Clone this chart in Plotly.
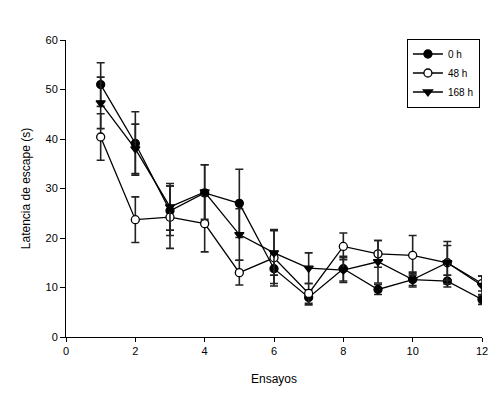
import plotly.graph_objects as go

ensayos = [1, 2, 3, 4, 5, 6, 7, 8, 9, 10, 11, 12]

lat_0h = [51.0, 39.1, 25.5, 29.1, 27.0, 13.8, 8.0, 13.8, 9.6, 11.6, 11.3, 7.6]
err_0h = [4.4, 6.4, 5.0, 5.7, 6.9, 3.0, 1.5, 2.5, 1.0, 1.2, 1.2, 1.0]
lat_48h = [40.4, 23.7, 24.2, 22.9, 13.0, 16.0, 8.8, 18.3, 16.8, 16.5, 15.0, 10.8]
err_48h = [4.7, 4.6, 6.3, 5.7, 2.5, 5.7, 2.0, 2.7, 2.7, 4.0, 3.5, 1.5]
lat_168h = [47.3, 38.0, 26.3, 29.3, 20.7, 17.0, 13.9, 13.5, 15.2, 11.6, 15.0, 10.4]
err_168h = [5.2, 5.0, 4.7, 5.5, 5.2, 4.5, 3.1, 2.5, 4.3, 1.5, 4.3, 1.9]

series = [
    ("0 h", lat_0h, err_0h, "circle", "black"),
    ("48 h", lat_48h, err_48h, "circle", "white"),
    ("168 h", lat_168h, err_168h, "triangle-down", "black"),
]

fig = go.Figure()
for name, y, e, sym, fill in series:
    fig.add_trace(go.Scatter(
        x=ensayos, y=y, name=name, mode="lines+markers",
        line=dict(color="black", width=1.3),
        marker=dict(symbol=sym, size=8, color=fill, line=dict(color="black", width=1.3)),
        error_y=dict(type="data", array=e, visible=True, color="#222", thickness=1.6, width=4),
    ))

font = "Liberation Sans, Arial, sans-serif"
fig.update_layout(
    width=492, height=388,
    margin=dict(l=58, r=18, t=32, b=59),
    paper_bgcolor="white", plot_bgcolor="white",
    font=dict(family=font, color="black", size=11),
    showlegend=True,
    legend=dict(x=0.995, y=1.005, xanchor="right", yanchor="top",
                bordercolor="black", borderwidth=1, bgcolor="white",
                font=dict(size=10, family=font), itemwidth=30,
                tracegroupgap=0),
    xaxis=dict(range=[0, 12], tickvals=[0, 2, 4, 6, 8, 10, 12], automargin=False,
               ticks="outside", ticklen=4, tickwidth=1, tickcolor="black",
               showline=True, linecolor="black", linewidth=1, showgrid=False,
               zeroline=False, title=dict(text="Ensayos", font=dict(size=12), standoff=18)),
    yaxis=dict(range=[0, 60], tickvals=[0, 10, 20, 30, 40, 50, 60], automargin=False,
               ticks="outside", ticklen=5, tickwidth=1, tickcolor="black",
               showline=True, linecolor="black", linewidth=1, showgrid=False,
               zeroline=False, title=dict(text="Latencia de escape (s)", font=dict(size=12), standoff=12)),
)

fig.write_html("out.html")
